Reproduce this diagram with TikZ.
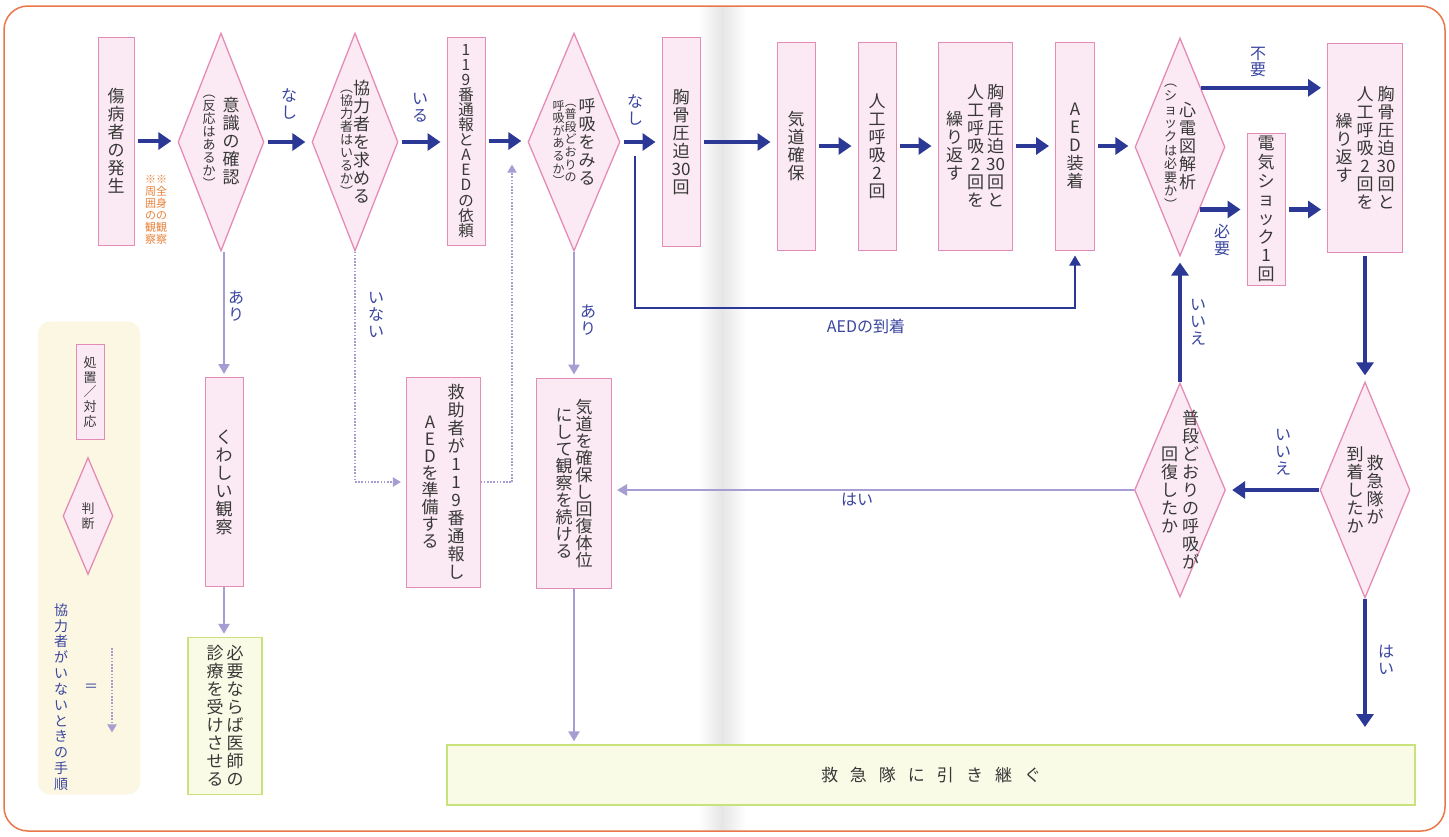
\documentclass[tikz,border=0pt]{standalone}
\usepackage{fontspec}
\setmainfont{Noto Sans CJK JP}
\usetikzlibrary{shapes.geometric,arrows.meta,calc}
\definecolor{navy}{HTML}{2B3896}
\definecolor{lpur}{HTML}{A69ED2}
\definecolor{pinkb}{HTML}{E48BB6}
\definecolor{pinkf}{HTML}{FBEAF3}
\definecolor{grnb}{HTML}{C9E27C}
\definecolor{grnf}{HTML}{FAFBE6}
\definecolor{labc}{HTML}{3A46A0}
\definecolor{txt}{HTML}{383838}
\definecolor{orng}{HTML}{E8823A}
\definecolor{legf}{HTML}{FCF7E2}
\definecolor{framec}{HTML}{E9774A}
\makeatletter
\def\vt@end{\vt@end}
\newcommand\vt[2][1.06]{$\vcenter{\baselineskip=#1em\lineskiplimit=-100pt\lineskip=0pt\vt@a#2\vt@end}$}
\def\vt@a#1{\ifx\vt@end#1\else\hbox to 1em{\hss#1\hss}\expandafter\vt@a\fi}
\makeatother
\newcommand\fs[1]{\fontsize{#1}{#1}\selectfont}
\tikzset{
  pbox/.style={draw=pinkb, fill=pinkf, line width=1pt, inner sep=0pt, text=txt, font=\fs{17}},
  gbox/.style={draw=grnb, fill=grnf, line width=1.4pt, inner sep=0pt, text=txt, font=\fs{17}},
  dia/.style={diamond, draw=pinkb, fill=pinkf, line width=1.3pt, inner sep=0pt},
  dtext/.style={inner sep=0pt, text=txt, font=\fs{17}},
  big/.style={navy, line width=4.5pt, -{Triangle[length=13pt,width=17pt]}, shorten <=3pt, shorten >=6pt},
  thinarr/.style={navy, line width=2.2pt, -{Triangle[length=10pt,width=11pt]}, shorten >=5pt},
  soft/.style={lpur, line width=2.4pt, -{Triangle[length=10pt,width=11pt]}, shorten >=3pt},
  dots/.style={lpur, line width=2.2pt, dash pattern=on 1.6pt off 1.6pt},
  dottip/.style={lpur, line width=2.2pt, dash pattern=on 1.6pt off 1.6pt, -{Triangle[length=8pt,width=9pt,sep]}, shorten >=3pt},
  lab/.style={inner sep=0pt, text=labc, font=\fs{16}},
}
\begin{document}
\begin{tikzpicture}[x=1pt,y=-1pt]
\useasboundingbox (0,0) rectangle (1449,836);
\fill[white] (0,0) rectangle (1449,836);
% gutter shading
\shade[left color=white, right color=black!10] (698,6) rectangle (722,830);
\shade[left color=black!10, right color=white] (722,6) rectangle (746,830);
\draw[framec, line width=1.5pt, rounded corners=24pt] (4,6) rectangle (1445,831);

% legend panel
\node[fill=legf, rounded corners=12pt, minimum width=102, minimum height=473, inner sep=0pt] (leg) at (89,558) {};
\node[pbox, minimum width=28, minimum height=95, font=\fs{13}] (legbox) at (90,392) {\vt[1.12]{処置／対応}};
\node[dia, minimum width=50, minimum height=117] (legdia) at (88,516) {};
\node[dtext, font=\fs{13}] (legdiat) at (legdia.center) {\vt[1.12]{判断}};
\node[lab, font=\fs{14}] (legtxt) at (61,697) {\vt[1.13]{協力者がいないときの手順}};
\node[lab, font=\fs{14}] (legeq) at (91,688) {＝};
\coordinate (legd1) at (112,648);
\coordinate (legd2) at (112,737);
\draw[dottip] (legd1) -- (legd2);

% top row
\node[pbox, minimum width=36, minimum height=208] (n1) at (116,141) {\vt{傷病者の発生}};
\node[inner sep=0pt, text=orng, font=\fs{11}] (note) at (156,210) {\vt[1.1]{※周囲の観察}\hspace{0pt}\vt[1.1]{※全身の観察}};
\node[dia, minimum width=86, minimum height=218] (d1) at (221,142) {};
\node[dtext] (d1t) at (d1.center) {{\fs{13}\vt[1.0]{︵反応はあるか︶}}\hspace{7pt}\vt{意識の確認}};
\node[dia, minimum width=86, minimum height=218] (d2) at (355,142) {};
\node[dtext] (d2t) at (d2.center) {{\fs{13}\vt[1.0]{︵協力者はいるか︶}}\hspace{0pt}\vt{協力者を求める}};
\node[pbox, minimum width=38, minimum height=208, font=\fs{15.5}] (n2) at (466,141) {\vt[0.97]{119番通報とAEDの依頼}};
\node[dia, minimum width=92, minimum height=218] (d3) at (574,142) {};
\node[dtext] (d3t) at (d3.center) {{\fs{12}\vt[1.05]{呼吸があるか︶}\vt[1.05]{︵普段どおりの}}\hspace{2pt}\vt{呼吸をみる}};
\node[pbox, minimum width=38, minimum height=209] (n3) at (681,142) {\vt{胸骨圧迫{30}回}};
\node[pbox, minimum width=38, minimum height=208] (n4) at (796,146) {\vt{気道確保}};
\node[pbox, minimum width=38, minimum height=208] (n5) at (877,146) {\vt{人工呼吸2回}};
\node[pbox, minimum width=74, minimum height=208] (n6) at (975,146) {\vt{繰り返す}\hspace{4pt}\vt{人工呼吸2回を}\hspace{3pt}\vt{胸骨圧迫{30}回と}};
\node[pbox, minimum width=39, minimum height=208] (n7) at (1075,146) {\vt{AED装着}};
\node[dia, minimum width=90, minimum height=218] (d4) at (1180,147) {};
\node[dtext] (d4t) at (d4.center) {{\fs{13}\vt[1.05]{︵ショックは必要か︶}}\hspace{2pt}\vt{心電図解析}};
\node[pbox, minimum width=38, minimum height=152] (n8) at (1266,209) {\vt[1.1]{電気ショック1回}};
\node[pbox, minimum width=75, minimum height=209] (n9) at (1365,148) {\vt{繰り返す}\hspace{4pt}\vt{人工呼吸2回を}\hspace{4pt}\vt{胸骨圧迫{30}回と}};

% right column diamonds
\node[dia, minimum width=90, minimum height=216] (d5) at (1365,490) {};
\node[dtext] (d5t) at (d5.center) {\vt{到着したか}\hspace{3pt}\vt{救急隊が}};
\node[dia, minimum width=91, minimum height=214] (d6) at (1180,490) {};
\node[dtext] (d6t) at (d6.center) {\vt{回復したか}\hspace{4pt}\vt{普段どおりの呼吸が}};

% lower boxes
\node[pbox, minimum width=38, minimum height=209] (n10) at (224,482) {\vt{くわしい観察}};
\node[gbox, minimum width=74, minimum height=157] (g1) at (225,716) {\vt{診療を受けさせる}\hspace{3pt}\vt{必要ならば医師の}};
\node[pbox, minimum width=74, minimum height=210] (n11) at (443,482) {\vt[1.0]{AEDを準備する}\hspace{9pt}\vt[1.06]{救助者が119番通報し}};
\node[pbox, minimum width=75, minimum height=210] (n12) at (574,483) {\vt[1.0]{にして観察を続ける}\hspace{3pt}\vt[1.0]{気道を確保し回復体位}};
\node[gbox, minimum width=968, minimum height=60] (g2) at (931,775) {救\hspace{12pt}急\hspace{12pt}隊\hspace{12pt}に\hspace{12pt}引\hspace{12pt}き\hspace{12pt}継\hspace{12pt}ぐ};

% top row arrows
\draw[big] (n1.east) -- (n1.east -| d1.west);
\draw[big] (d1.east) -- (d1.east -| d2.west);
\draw[big] (d2.east) -- (d2.east -| n2.west);
\draw[big] (n2.east) -- (n2.east -| d3.west);
\draw[big] (d3.east) -- (d3.east -| n3.west);
\draw[big] (n3.east) -- (n3.east -| n4.west);
\draw[big] (n4.east) -- (n4.east -| n5.west);
\draw[big] (n5.east) -- (n5.east -| n6.west);
\draw[big] (n6.east) -- (n6.east -| n7.west);
\draw[big] (n7.east) -- (n7.east -| d4.west);
\coordinate (d4n) at ($(d4.east)!0.54!(d4.north)$);
\coordinate (d4s) at ($(d4.east)!0.57!(d4.south)$);
\draw[big, shorten <=0pt] (d4n) -- (d4n -| n9.west);
\draw[big, shorten <=0pt] (d4s) -- (d4s -| n8.west);
\draw[big] (n8.east |- d4s) -- (d4s -| n9.west);
\draw[big] (n9.south) -- (d5.north);
\draw[big, shorten <=0pt] (d5.west) -- (d6.east);
\draw[big, shorten <=0pt] (d6.north) -- (d4.south);
\coordinate (endarr) at (1365,727);
\draw[big, shorten <=0pt, shorten >=0pt] (d5.south) -- (endarr);
\draw[soft, shorten >=5pt] (d6.west) -- (d6.west -| n12.east);

% AED arrival line
\coordinate (aeds) at (635,156);
\coordinate (aedc) at (635,308);
\draw[thinarr] (aeds) -- (aedc) -| (n7.south);

% lower connectors
\draw[soft] (d1.south -| n10.north) -- (n10.north);
\draw[soft] (n10.south) -- (n10.south |- g1.north);
\draw[dots] (d2.south) -- (d2.south |- n11.west);
\draw[dottip] (d2.south |- n11.west) -- (n11.west);
\coordinate (dotup) at (512,160);
\draw[dots] (n11.east) -- (n11.east -| dotup);
\draw[dottip] (n11.east -| dotup) -- (dotup);
\draw[soft] (d3.south) -- (d3.south |- n12.north);
\draw[soft] (n12.south) -- (n12.south |- g2.north);

% labels
\node[lab] (l1) at (289,104) {\vt[1.05]{なし}};
\node[lab] (l2) at (420,108) {\vt[1.05]{いる}};
\node[lab] (l3) at (635,110) {\vt[1.05]{なし}};
\node[lab] (l4) at (1258,62) {\vt[1.05]{不要}};
\node[lab] (l5) at (1222,240) {\vt[1.05]{必要}};
\node[lab] (l6) at (1198,322) {\vt[1.05]{いいえ}};
\node[lab] (l7) at (1283,452) {\vt[1.05]{いいえ}};
\node[lab] (l8) at (1386,660) {\vt[1.05]{はい}};
\node[lab, font=\fs{16}] (l9) at (857,500) {はい};
\node[lab, font=\fs{16}] (l10) at (866,326) {AEDの到着};
\node[lab] (l11) at (236,306) {\vt[1.05]{あり}};
\node[lab] (l12) at (376,315) {\vt[1.05]{いない}};
\node[lab] (l13) at (588,320) {\vt[1.05]{あり}};
\end{tikzpicture}
\end{document}
